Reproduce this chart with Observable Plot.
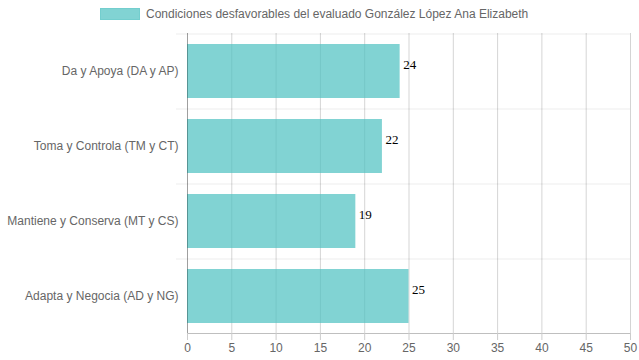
<!DOCTYPE html>
<html>
<head>
<meta charset="utf-8">
<script src="https://cdn.jsdelivr.net/npm/d3@7"></script>
<script src="https://cdn.jsdelivr.net/npm/@observablehq/plot@0.6"></script>
<style>
  html, body { margin: 0; padding: 0; background: #fff; }
  #wrap { width: 639px; height: 360px; position: relative; overflow: hidden; }
  #legend { position: absolute; top: 0; left: 0; width: 639px; height: 30px;
    font-family: "Liberation Sans", Arial, sans-serif; font-size: 12px; color: #666; }
  #legend .item { position: absolute; left: 100px; top: 7px; display: flex; align-items: center; white-space: nowrap; }
  #legend .sw { width: 40px; height: 12px; background: rgba(75,192,192,0.7); border: 1px solid rgba(75,192,192,0.25); box-sizing: border-box; margin-right: 6px; }
  #chart { position: absolute; top: 29px; left: 0; }
</style>
</head>
<body>
<div id="wrap">
  <div id="legend"><div class="item"><div class="sw"></div><span id="legtext"></span></div></div>
  <div id="chart"></div>
</div>
<script>
const seriesName = "Condiciones desfavorables del evaluado González López Ana Elizabeth";
const categories = ["Da y Apoya (DA y AP)", "Toma y Controla (TM y CT)", "Mantiene y Conserva (MT y CS)", "Adapta y Negocia (AD y NG)"];
const values = [24, 22, 19, 25];
const xTicks = [0, 5, 10, 15, 20, 25, 30, 35, 40, 45, 50];

document.getElementById("legtext").textContent = seriesName;

const data = categories.map((c, i) => ({cat: c, val: values[i]}));

const chart = Plot.plot({
  width: 639,
  height: 331,
  marginLeft: 187,
  marginRight: 9,
  marginTop: 4,
  marginBottom: 27,
  style: {fontFamily: "'Liberation Sans', Arial, sans-serif", fontSize: "12px", color: "#666", background: "#fff"},
  x: {domain: [0, 50], ticks: xTicks, label: null},
  y: {domain: categories, paddingInner: 0.28, paddingOuter: 0.14, label: null},
  marks: [
    Plot.ruleX(xTicks, {stroke: "#000", strokeOpacity: 0.17}),
    Plot.ruleY(categories, {y: d => d, dy: -37.5, stroke: "#000", strokeOpacity: 0.07, insetLeft: -11}),
    Plot.barX(data, {y: "cat", x: "val", fill: "rgb(75,192,192)", fillOpacity: 0.7}),
    Plot.ruleX([0], {stroke: "#000", strokeOpacity: 0.25}),
    Plot.frame({anchor: "bottom", stroke: "#000", strokeOpacity: 0.25}),
    Plot.axisX({ticks: xTicks, tickSize: 7, tickPadding: 3, stroke: "#ccc", fill: "#666", label: null}),
    Plot.axisY({tickSize: 0, tickPadding: 9, fill: "#666", label: null}),
    Plot.text(data, {y: "cat", x: "val", text: d => String(d.val), textAnchor: "start", dx: 3, dy: -7,
      fill: "#000", fontFamily: "'Liberation Serif', 'Times New Roman', serif", fontSize: 13})
  ]
});
document.getElementById("chart").appendChild(chart);
</script>
</body>
</html>
